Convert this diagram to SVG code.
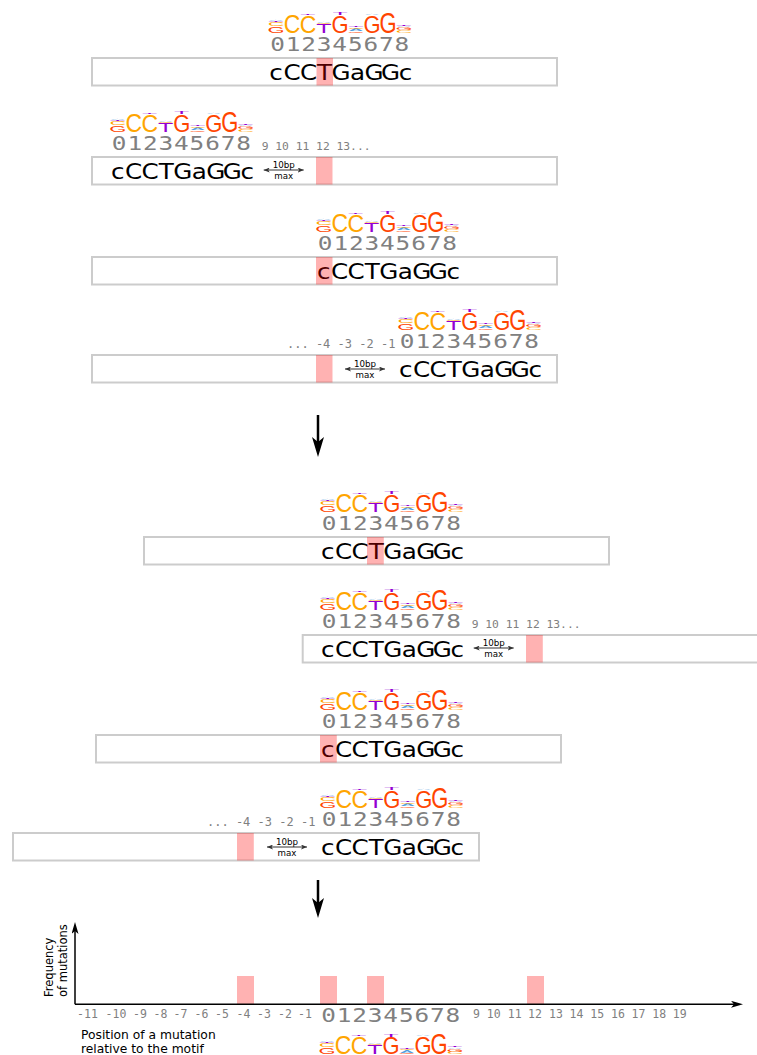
<svg xmlns="http://www.w3.org/2000/svg" xmlns:xlink="http://www.w3.org/1999/xlink" width="757" height="1055" viewBox="0 0 757 1055">
<style>
.box{fill:#ffffff;stroke:#cccccc;stroke-width:2}
.hl{fill:#ff0000;fill-opacity:0.3}
.seq{font-family:"DejaVu Sans",sans-serif;font-size:22px;fill:#000000;text-anchor:middle}
.dig{font-family:"DejaVu Sans Mono",monospace;font-size:19.5px;fill:#808080;text-anchor:middle}
.sm{font-family:"DejaVu Sans Mono",monospace;font-size:11.3px;fill:#808080}
.ax{font-family:"DejaVu Sans Mono",monospace;font-size:11.5px;fill:#808080;text-anchor:middle}
.lbl{font-family:"DejaVu Sans",sans-serif;font-size:11.5px;fill:#000000}
.lbl2{font-family:"DejaVu Sans",sans-serif;font-size:12.3px;fill:#000000}
.ic{font-family:"DejaVu Sans",sans-serif;font-size:8.7px;fill:#000000;text-anchor:middle}
.L{font-family:"Liberation Sans",Arial,sans-serif;font-size:10px;text-anchor:middle}
.cC{fill:#ffa500}.cG{fill:#ff4500}.cT{fill:#9400d3}.cA{fill:#4d9de0}
.conn{stroke:#000000;stroke-width:2.5;fill:none}
.axis{stroke:#000000;stroke-width:1.5;fill:none}
</style>
<defs>
<marker id="bigArrow" viewBox="0 0 20 12" refX="13" refY="6" markerWidth="20" markerHeight="12" markerUnits="userSpaceOnUse" orient="auto"><path d="M0,0 L20,6 L0,12 L5,6 Z" fill="#000"/></marker>
<marker id="axArrow" viewBox="0 0 12 7" refX="8" refY="3.5" markerWidth="12" markerHeight="7" markerUnits="userSpaceOnUse" orient="auto"><path d="M0,0 L12,3.5 L0,7 L3,3.5 Z" fill="#000"/></marker>
<marker id="icArrowE" viewBox="0 0 6 5" refX="6" refY="2.5" markerWidth="6" markerHeight="5" markerUnits="userSpaceOnUse" orient="auto"><path d="M0,0 L6,2.5 L0,5 L1.5,2.5 Z" fill="#333"/></marker>
<marker id="icArrowS" viewBox="0 0 6 5" refX="0" refY="2.5" markerWidth="6" markerHeight="5" markerUnits="userSpaceOnUse" orient="auto"><path d="M6,0 L0,2.5 L6,5 L4.5,2.5 Z" fill="#333"/></marker>
<g id="logo">
<text class="L cG" transform="translate(8,0) scale(2.2,0.96)">G</text>
<text class="L cC" transform="translate(8,-7) scale(2.3,0.55)">C</text>
<text class="L cT" transform="translate(8,-11) scale(2.5,0.15)">T</text>
<text class="L cA" transform="translate(8,-12) scale(2.0,0.12)">A</text>
<text class="L cC" transform="translate(24,0) scale(2.3,2.55)">C</text>
<text class="L cC" transform="translate(40,0) scale(2.3,2.48)">C</text>
<text class="L cT" transform="translate(40,-18) scale(2.5,0.14)">T</text>
<text class="L cT" transform="translate(56,0) scale(2.5,1.2)">T</text>
<text class="L cC" transform="translate(56,-8.6) scale(2.3,0.18)">C</text>
<text class="L cA" transform="translate(56,-10) scale(2.0,0.12)">A</text>
<text class="L cG" transform="translate(72,0) scale(2.2,2.35)">G</text>
<text class="L cT" transform="translate(72,-17.2) scale(2.5,0.28)">T</text>
<text class="L cG" transform="translate(88,0) scale(2.2,0.2)">G</text>
<text class="L cA" transform="translate(88,-1.5) scale(2.0,0.32)">A</text>
<text class="L cC" transform="translate(88,-4) scale(2.3,0.18)">C</text>
<text class="L cT" transform="translate(88,-5.4) scale(2.5,0.12)">T</text>
<text class="L cG" transform="translate(104,0) scale(2.2,2.4)">G</text>
<text class="L cA" transform="translate(104,-17.6) scale(2.0,0.12)">A</text>
<text class="L cG" transform="translate(120,0) scale(2.2,3.02)">G</text>
<text class="L cC" transform="translate(136,0) scale(2.3,0.32)">C</text>
<text class="L cG" transform="translate(136,-2.4) scale(2.2,0.4)">G</text>
<text class="L cA" transform="translate(136,-5.4) scale(2.0,0.18)">A</text>
<text class="L cT" transform="translate(136,-6.8) scale(2.5,0.16)">T</text>
</g>
<g id="digits"><text class="dig" transform="scale(1.25,1)" x="5.2 17.64 30.08 42.52 54.96 67.4 79.84 92.28 104.72" y="0">012345678</text></g>
<g id="seq"><text class="seq" transform="scale(1.12,1)" x="6.25 20.54 35.27 49.55 64.29 79.02 93.75 108.48 121.88" y="0">cCCTGaGGc</text></g>
<g id="icon">
<line x1="1" y1="0" x2="41" y2="0" stroke="#333" stroke-width="1" marker-start="url(#icArrowS)" marker-end="url(#icArrowE)"/>
<text class="ic" x="21" y="-2">10bp</text>
<text class="ic" x="21" y="9">max</text>
</g>
</defs>

<g id="connectors">
<line class="conn" x1="318" y1="415" x2="318" y2="450" marker-end="url(#bigArrow)"/>
<line class="conn" x1="318" y1="880" x2="318" y2="911" marker-end="url(#bigArrow)"/>
</g>

<g id="row1">
<rect class="box" x="92" y="58" width="465" height="27.5"/>
<use href="#logo" x="268" y="32.5"/>
<use href="#digits" x="271" y="51"/>
<use href="#seq" x="269" y="80"/>
<rect class="hl" x="316.5" y="58" width="16.5" height="27.5"/>
</g>

<g id="row2">
<rect class="box" x="92" y="157" width="465" height="27.5"/>
<use href="#logo" x="109.7" y="131.5"/>
<use href="#digits" x="112.7" y="150"/>
<text class="sm" x="261.7" y="150">9 10 11 12 13...</text>
<use href="#seq" x="110.7" y="179"/>
<use href="#icon" x="262.7" y="170"/>
<rect class="hl" x="316" y="157" width="16.5" height="27.5"/>
</g>

<g id="row3">
<rect class="box" x="92" y="257" width="465" height="27.5"/>
<use href="#logo" x="315.7" y="231.5"/>
<use href="#digits" x="318.7" y="250"/>
<use href="#seq" x="316.7" y="279"/>
<rect class="hl" x="316" y="257" width="16.5" height="27.5"/>
</g>

<g id="row4">
<rect class="box" x="92" y="355" width="465" height="27.5"/>
<use href="#logo" x="397.7" y="329.5"/>
<use href="#digits" x="400.7" y="348"/>
<text class="sm" x="287" y="348" style="font-size:12px">... -4 -3 -2 -1</text>
<use href="#seq" x="398.7" y="377"/>
<use href="#icon" x="344" y="369"/>
<rect class="hl" x="316" y="355" width="16.5" height="27.5"/>
</g>

<g id="row5">
<rect class="box" x="144" y="537" width="465" height="27.5"/>
<use href="#logo" x="319.7" y="511.5"/>
<use href="#digits" x="322.7" y="530"/>
<use href="#seq" x="320.7" y="559"/>
<rect class="hl" x="367" y="537" width="16.8" height="27.5"/>
</g>

<g id="row6">
<rect class="box" x="302.7" y="635" width="465" height="27.5"/>
<use href="#logo" x="319.7" y="609.5"/>
<use href="#digits" x="322.7" y="628"/>
<text class="sm" x="471.7" y="628">9 10 11 12 13...</text>
<use href="#seq" x="320.7" y="657"/>
<use href="#icon" x="472.7" y="648"/>
<rect class="hl" x="526" y="635" width="16.8" height="27.5"/>
</g>

<g id="row7">
<rect class="box" x="96" y="735" width="465" height="27.5"/>
<use href="#logo" x="319.7" y="709.5"/>
<use href="#digits" x="322.7" y="728"/>
<use href="#seq" x="320.7" y="757"/>
<rect class="hl" x="320" y="735" width="16.8" height="27.5"/>
</g>

<g id="row8">
<rect class="box" x="13" y="833" width="466" height="27.5"/>
<use href="#logo" x="319.7" y="807.5"/>
<use href="#digits" x="322.7" y="826"/>
<text class="sm" x="207" y="826" style="font-size:12px">... -4 -3 -2 -1</text>
<use href="#seq" x="320.7" y="855"/>
<use href="#icon" x="266" y="847"/>
<rect class="hl" x="237" y="833" width="16.8" height="27.5"/>
</g>

<g id="chart">
<rect class="hl" x="237" y="976" width="17" height="28"/>
<rect class="hl" x="320" y="976" width="17" height="28"/>
<rect class="hl" x="367" y="976" width="17" height="28"/>
<rect class="hl" x="527" y="976" width="17" height="28"/>
<line class="axis" x1="75" y1="1004.3" x2="75" y2="926" marker-end="url(#axArrow)"/>
<line class="axis" x1="75" y1="1004.3" x2="739" y2="1004.3" marker-end="url(#axArrow)"/>
<text class="lbl" transform="translate(53,997) rotate(-90)">Frequency</text>
<text class="lbl" transform="translate(67,997) rotate(-90)">of mutations</text>
<text class="ax" x="87.5" y="1018">-11</text>
<text class="ax" x="116" y="1018">-10</text>
<text class="ax" x="140" y="1018">-9</text>
<text class="ax" x="160.5" y="1018">-8</text>
<text class="ax" x="180.5" y="1018">-7</text>
<text class="ax" x="201.5" y="1018">-6</text>
<text class="ax" x="222" y="1018">-5</text>
<text class="ax" x="243.5" y="1018">-4</text>
<text class="ax" x="264" y="1018">-3</text>
<text class="ax" x="285" y="1018">-2</text>
<text class="ax" x="305" y="1018">-1</text>
<use href="#digits" x="322" y="1022"/>
<text class="ax" x="476.5" y="1018">9</text>
<text class="ax" x="493.7" y="1018">10</text>
<text class="ax" x="514.7" y="1018">11</text>
<text class="ax" x="535" y="1018">12</text>
<text class="ax" x="556" y="1018">13</text>
<text class="ax" x="576.5" y="1018">14</text>
<text class="ax" x="597.3" y="1018">15</text>
<text class="ax" x="618" y="1018">16</text>
<text class="ax" x="638.5" y="1018">17</text>
<text class="ax" x="659.3" y="1018">18</text>
<text class="ax" x="679.7" y="1018">19</text>
<use href="#logo" x="319" y="1054"/>
<text class="lbl2" x="81" y="1038.5">Position of a mutation</text>
<text class="lbl2" x="81" y="1053">relative to the motif</text>
</g>
</svg>
